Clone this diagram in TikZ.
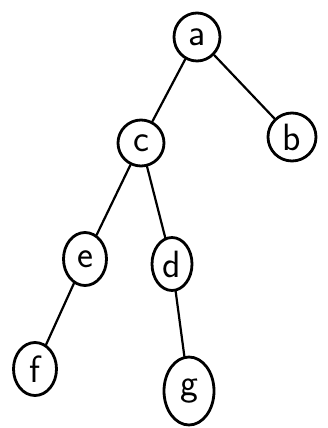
\documentclass[tikz,border=0pt]{standalone}
\usetikzlibrary{shapes.geometric}
\begin{document}
\begin{tikzpicture}[x=1pt,y=-1pt,
  vtx/.style={draw=black,line width=2.8pt,ellipse,inner sep=0pt,font=\fontsize{38}{38}\selectfont\sffamily},
  edge/.style={draw=black,line width=2.2pt,line cap=round}]
\useasboundingbox (0,0) rectangle (327,428);
\node[vtx,minimum width=46pt,minimum height=48pt] (a) at (197,37) {a};
\node[vtx,minimum width=48pt,minimum height=48pt] (b) at (292,137) {b};
\node[vtx,minimum width=46pt,minimum height=46pt] (c) at (141,143) {c};
\node[vtx,minimum width=43pt,minimum height=53pt] (e) at (85,259) {e};
\node[vtx,minimum width=40pt,minimum height=53pt] (d) at (172,264) {d};
\node[vtx,minimum width=43pt,minimum height=53pt] (f) at (35,369) {f};
\node[vtx,minimum width=50pt,minimum height=68pt] (g) at (189,391) {g};
\draw[edge] (a) -- (c);
\draw[edge] (a) -- (b);
\draw[edge] (c) -- (e);
\draw[edge] (c) -- (d);
\draw[edge] (e) -- (f);
\draw[edge] (d) -- (g);
\end{tikzpicture}
\end{document}
